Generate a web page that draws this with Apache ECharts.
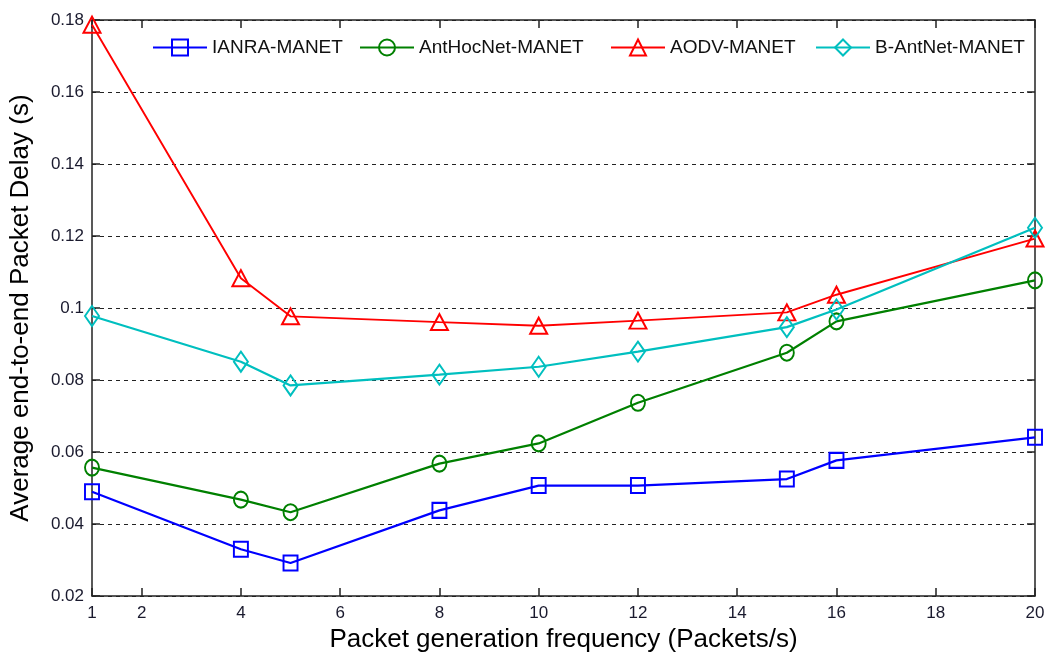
<!DOCTYPE html>
<html>
<head>
<meta charset="utf-8">
<script src="https://cdn.jsdelivr.net/npm/echarts@6/dist/echarts.min.js"></script>
<style>html,body{margin:0;padding:0;background:#fff}#c{width:1049px;height:658px}</style>
</head>
<body>
<div id="c"></div>
<script>
const xValues = [1, 4, 5, 8, 10, 12, 15, 16, 20];
const ianra = [0.049, 0.033, 0.0292, 0.0438, 0.0507, 0.0507, 0.0525, 0.0577, 0.0641];
const anthoc = [0.0557, 0.0468, 0.0433, 0.0568, 0.0624, 0.0737, 0.0876, 0.0963, 0.1077];
const aodv = [0.1787, 0.1083, 0.0977, 0.0961, 0.0951, 0.0965, 0.0988, 0.1037, 0.1193];
const bant = [0.0978, 0.0851, 0.0785, 0.0815, 0.0837, 0.0879, 0.0947, 0.0996, 0.1223];
const xTickLabels = [1, 2, 4, 6, 8, 10, 12, 14, 16, 18, 20];
const seriesNames = ['IANRA-MANET', 'AntHocNet-MANET', 'AODV-MANET', 'B-AntNet-MANET'];

const colors = ['#0000ff', '#008000', '#ff0000', '#00bfbf'];
const symbols = ['rect', 'circle', 'triangle', 'diamond'];
const sizes = [[14, 15], [14, 16], [17, 16], [14, 20]];
const legendLeft = [147, 354, 605, 810];
const data = [ianra, anthoc, aodv, bant];

const chart = echarts.init(document.getElementById('c'), null, {renderer: 'canvas'});
const font = 'Liberation Sans, Arial, sans-serif';
const axisLine = {show: true, lineStyle: {color: '#222', width: 1.5}};

const series = data.map((arr, i) => ({
  name: seriesNames[i],
  type: 'line',
  data: xValues.map((x, j) => [x, arr[j]]),
  symbol: symbols[i],
  symbolSize: sizes[i],
  showSymbol: true,
  lineStyle: {color: colors[i], width: i === 2 ? 1.9 : 2.2},
  itemStyle: {color: 'rgba(255,255,255,0)', borderColor: colors[i], borderWidth: 2},
  emphasis: {disabled: true},
  animation: false,
  z: 10
}));

const legends = seriesNames.map((n, i) => ({
  left: legendLeft[i], top: 33,
  itemWidth: 54, itemHeight: 20, itemGap: 0,
  textStyle: {fontFamily: font, fontSize: 19, color: '#111'},
  data: [{name: n, itemStyle: {color: 'rgba(255,255,255,0)', borderColor: colors[i], borderWidth: 2}}]
}));

chart.setOption({
  backgroundColor: '#fff',
  animation: false,
  grid: {left: 90, right: 14, top: 20, bottom: 58, containLabel: false},
  legend: legends,
  xAxis: [{
    type: 'value', min: 1, max: 20, position: 'bottom',
    axisLine: axisLine,
    axisTick: {show: true, inside: true, length: 8, customValues: xTickLabels, lineStyle: {color: '#222', width: 1.5}},
    axisLabel: {show: true, customValues: xTickLabels, margin: 9, fontFamily: font, fontSize: 17, color: '#1a1a2e'},
    splitLine: {show: false},
    name: 'Packet generation frequency (Packets/s)', nameLocation: 'middle', nameGap: 30,
    nameTextStyle: {fontFamily: font, fontSize: 26, color: '#000'}
  }, {
    type: 'value', min: 1, max: 20, position: 'top',
    axisLine: axisLine,
    axisTick: {show: true, inside: true, length: 8, customValues: xTickLabels, lineStyle: {color: '#222', width: 1.5}},
    axisLabel: {show: false},
    splitLine: {show: false}
  }],
  yAxis: [{
    type: 'value', min: 0.02, max: 0.18, interval: 0.02, position: 'left',
    axisLine: axisLine,
    axisTick: {show: true, inside: true, length: 8, lineStyle: {color: '#222', width: 1.5}},
    axisLabel: {margin: 8, fontFamily: font, fontSize: 17, color: '#1a1a2e', formatter: v => String(+v.toFixed(2))},
    splitLine: {show: true, lineStyle: {color: '#222', type: [4, 4], width: 1}},
    name: 'Average end-to-end Packet Delay (s)', nameLocation: 'middle', nameGap: 58,
    nameTextStyle: {fontFamily: font, fontSize: 26, color: '#000'}
  }, {
    type: 'value', min: 0.02, max: 0.18, interval: 0.02, position: 'right',
    axisLine: axisLine,
    axisTick: {show: true, inside: true, length: 8, lineStyle: {color: '#222', width: 1.5}},
    axisLabel: {show: false},
    splitLine: {show: false}
  }],
  series: series
});
</script>
</body>
</html>
